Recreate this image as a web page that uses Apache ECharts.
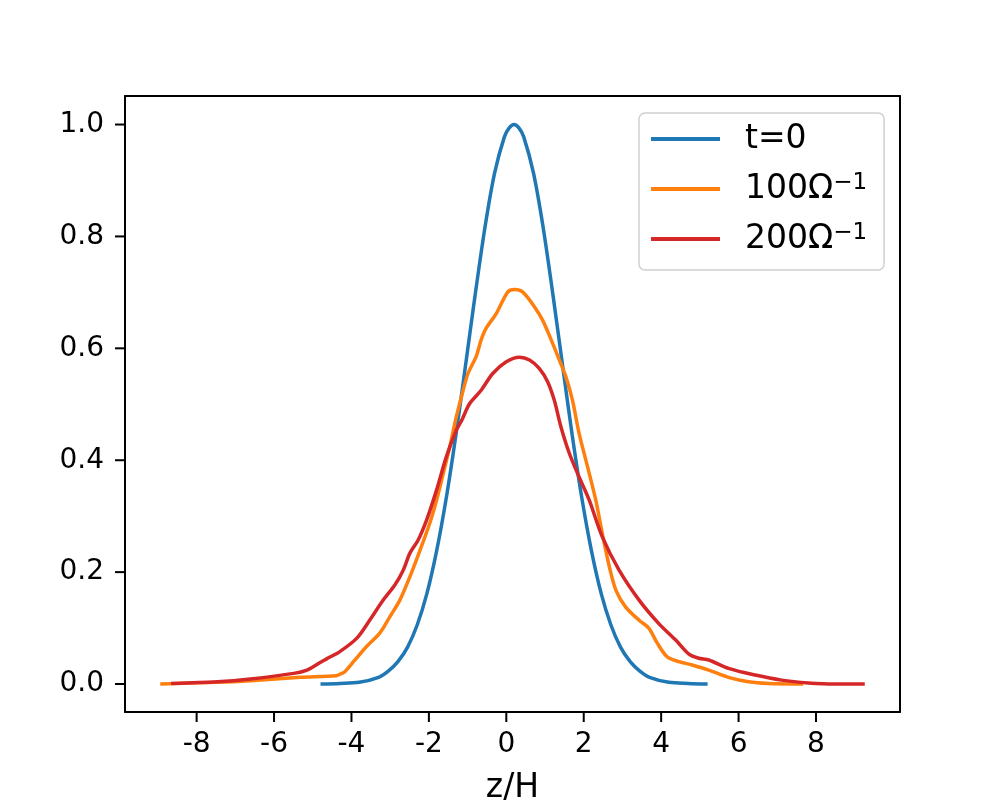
<!DOCTYPE html>
<html>
<head>
<meta charset="utf-8">
<script src="https://cdn.jsdelivr.net/npm/echarts@6/dist/echarts.min.js"></script>
<style>
  html, body { margin: 0; padding: 0; background: #fff; }
  #chart { width: 1001px; height: 801px; }
</style>
</head>
<body>
<div id="chart"></div>
<script>
const seriesNames = ['t=0', '100Ω^-1', '200Ω^-1']

const blueX = [-4.8, -4.3, -3.8, -3.3, -3.05, -2.8, -2.55, -2.3, -2.05, -1.8, -1.55, -1.3, -1.05, -0.8, -0.55, -0.3, -0.05, 0.075, 0.2,
  0.325, 0.45, 0.7, 0.95, 1.2, 1.45, 1.7, 1.95, 2.2, 2.45, 2.7, 2.95, 3.2, 3.45, 3.7, 4.2, 4.7, 5.2]
const blueY = [0.000, 0.001, 0.003, 0.012, 0.023, 0.040, 0.066, 0.106, 0.162, 0.238, 0.333, 0.446, 0.571, 0.698, 0.817, 0.914, 0.978, 0.994, 1.000,
  0.994, 0.978, 0.914, 0.817, 0.698, 0.571, 0.446, 0.333, 0.238, 0.162, 0.106, 0.066, 0.040, 0.023, 0.012, 0.003, 0.001, 0.000]

const orangeX = [-8.94, -7.5, -6.6, -5.32, -4.39, -4.25, -4.17, -3.91, -3.61, -3.27, -3.01, -2.75, -2.49, -2.23, -1.98, -1.80, -1.63,
  -1.46, -1.31, -1.16, -0.99, -0.78, -0.65, -0.52, -0.26, 0.04, 0.21, 0.42, 0.73, 0.94, 1.16, 1.37, 1.54, 1.71, 1.88, 2.10, 2.31,
  2.48, 2.66, 2.83, 3.08, 3.43, 3.68, 3.90, 4.15, 4.46, 4.80, 5.23, 5.74, 6.26, 6.77, 7.67]
const orangeY = [0.000, 0.003, 0.006, 0.012, 0.015, 0.019, 0.022, 0.043, 0.067, 0.091, 0.120, 0.150, 0.192, 0.239, 0.287, 0.329, 0.376,
  0.424, 0.472, 0.513, 0.555, 0.585, 0.615, 0.636, 0.662, 0.701, 0.705, 0.701, 0.674, 0.650, 0.615, 0.579, 0.549, 0.507, 0.448, 0.388, 0.329,
  0.269, 0.210, 0.168, 0.138, 0.114, 0.100, 0.073, 0.049, 0.040, 0.034, 0.025, 0.012, 0.004, 0.001, 0.000]

const redX = [-8.66, -7.46, -6.61, -5.49, -5.15, -4.82, -4.64, -4.30, -3.86, -3.53, -3.18, -2.88, -2.66, -2.49, -2.28, -2.06, -1.80,
  -1.55, -1.29, -1.16, -0.95, -0.65, -0.35, 0.00, 0.34, 0.60, 0.85, 1.07, 1.24, 1.41, 1.63, 1.88, 2.14, 2.48, 2.91, 3.43, 3.94,
  4.37, 4.71, 4.97, 5.23, 5.74, 6.43, 7.11, 7.80, 8.49, 9.26]
const redY = [0.001, 0.004, 0.009, 0.019, 0.025, 0.038, 0.045, 0.058, 0.082, 0.114, 0.150, 0.177, 0.204, 0.234, 0.257, 0.293, 0.347,
  0.406, 0.454, 0.470, 0.501, 0.525, 0.555, 0.576, 0.584, 0.579, 0.564, 0.540, 0.507, 0.460, 0.412, 0.370, 0.329, 0.263, 0.204, 0.150, 0.108,
  0.079, 0.054, 0.046, 0.043, 0.028, 0.016, 0.007, 0.002, 0.000, 0.000]

const xTicks = [-8, -6, -4, -2, 0, 2, 4, 6, 8]
const yTicks = [0, 0.2, 0.4, 0.6, 0.8, 1.0]

const colors = ['#1f77b4', '#ff7f0e', '#d62728']
const FONT = 'DejaVu Sans'
const X_MIN = -9.85, X_MAX = 10.17
const Y_MIN = -0.05, Y_MAX = 1.051
const TICK_LEN = 10

function pairs(xs, ys) {
  return xs.map((x, i) => [x, ys[i]])
}

// spine only: top / right frame lines
function frameAxis(position, min, max) {
  return {
    type: 'value', position: position, min: min, max: max,
    axisLine: { show: true, onZero: false, lineStyle: { color: '#000', width: 2 } },
    axisTick: { show: false }, axisLabel: { show: false }, splitLine: { show: false }
  }
}

const chart = echarts.init(document.getElementById('chart'))
const option = {
  animation: false,
  color: colors,
  textStyle: { fontFamily: FONT },
  grid: {
    left: 125,
    right: 101,
    top: 96,
    bottom: 89,
    outerBoundsMode: 'none'
  },
  legend: {
    data: seriesNames,
    orient: 'vertical',
    left: 639,
    top: 113,
    padding: [9, 17, 14, 12],
    icon: 'rect',
    itemWidth: 69,
    itemHeight: 4,
    itemGap: 16,
    backgroundColor: '#fff',
    borderColor: '#d0d0d0',
    borderWidth: 1.5,
    borderRadius: 6,
    formatter: (name) => name.replace('^-1', '{sup|−1}'),
    textStyle: {
      fontFamily: FONT,
      fontSize: 33,
      lineHeight: 34,
      color: '#000',
      padding: [0, 0, 0, 20],
      rich: {
        sup: { fontFamily: FONT, fontSize: 23, lineHeight: 18, verticalAlign: 'top', color: '#000' }
      }
    }
  },
  xAxis: [{
    type: 'value',
    position: 'bottom',
    min: X_MIN,
    max: X_MAX,
    name: 'z/H',
    nameLocation: 'middle',
    nameGap: 60,
    nameTextStyle: { fontFamily: FONT, fontSize: 33, color: '#000' },
    axisLine: { show: true, onZero: false, lineStyle: { color: '#000', width: 2 } },
    splitLine: { show: false },
    axisTick: { show: false },
    axisLabel: {
      fontFamily: FONT,
      fontSize: 28,
      color: '#000',
      margin: 19,
      customValues: xTicks,
      formatter: (v) => String(v)
    }
  }, frameAxis('top', X_MIN, X_MAX)],
  yAxis: [{
    type: 'value',
    position: 'left',
    min: Y_MIN,
    max: Y_MAX,
    axisLine: { show: true, onZero: false, lineStyle: { color: '#000', width: 2 } },
    splitLine: { show: false },
    axisTick: { show: false },
    axisLabel: {
      fontFamily: FONT,
      fontSize: 28,
      color: '#000',
      margin: 21,
      customValues: yTicks,
      formatter: (v) => v.toFixed(1)
    }
  }, frameAxis('right', Y_MIN, Y_MAX)],
  series: [
    { name: seriesNames[0], type: 'line', data: pairs(blueX, blueY), smooth: 0.3, symbol: 'none', lineStyle: { width: 3.5 } },
    { name: seriesNames[1], type: 'line', data: pairs(orangeX, orangeY), smooth: 0.3, symbol: 'none', lineStyle: { width: 3.5 } },
    { name: seriesNames[2], type: 'line', data: pairs(redX, redY), smooth: 0.3, symbol: 'none', lineStyle: { width: 3.5 } }
  ]
}
chart.setOption(option)

// outward tick marks: positions come from the chart's own scales
function addTicks() {
  const finder = { xAxisIndex: 0, yAxisIndex: 0 }
  const els = []
  xTicks.forEach((v) => {
    const p = chart.convertToPixel(finder, [v, Y_MIN])
    els.push({
      type: 'line', z: 100,
      shape: { x1: p[0], y1: p[1], x2: p[0], y2: p[1] + TICK_LEN },
      style: { stroke: '#000', lineWidth: 2 }
    })
  })
  yTicks.forEach((v) => {
    const p = chart.convertToPixel(finder, [X_MIN, v])
    els.push({
      type: 'line', z: 100,
      shape: { x1: p[0] - TICK_LEN, y1: p[1], x2: p[0], y2: p[1] },
      style: { stroke: '#000', lineWidth: 2 }
    })
  })
  chart.setOption({ graphic: { elements: els } })
}
addTicks()

window.addEventListener('resize', () => {
  chart.resize()
  addTicks()
})
</script>
</body>
</html>
